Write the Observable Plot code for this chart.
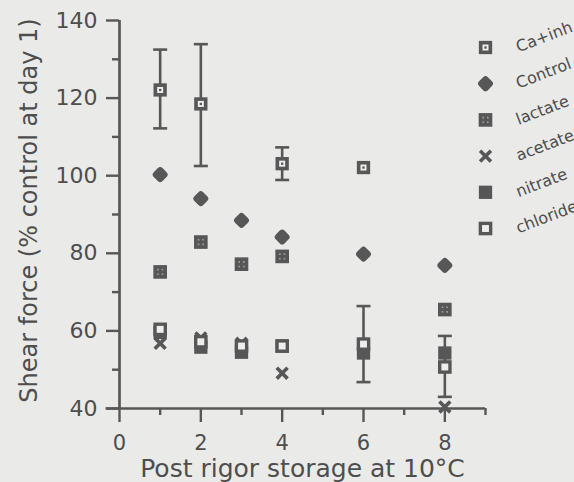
<!DOCTYPE html>
<html><head><meta charset="utf-8">
<script src="https://cdn.jsdelivr.net/npm/d3@7"></script>
<script src="https://cdn.jsdelivr.net/npm/@observablehq/plot@0.6"></script>
<style>html,body{margin:0;padding:0;background:#eaeae8;overflow:hidden;}</style>
</head><body><div id="chart"></div>
<script>
// ---- data ----
const days = [1, 2, 3, 4, 6, 8];
const caInh     = [122.1, 118.5, null, 103.1, 102.1, null];
const caInhLow  = [112.2, 102.5, null, 98.9, null, null];
const caInhHigh = [132.5, 133.9, null, 107.3, null, null];
const control   = [100.3, 94.1, 88.5, 84.2, 79.8, 76.9];
const lactate   = [75.2, 82.9, 77.2, 79.2, null, 65.5];
const acetate   = [56.8, 58.2, 56.8, 49.1, 54.5, 40.4];
const nitrate   = [59.6, 55.8, 54.5, 56.1, 54.3, 54.3];
const chloride  = [60.4, 57.2, 56.1, 56.1, 56.6, 50.7];
const chlorideLow  = [null, null, null, null, 46.8, 43.0];
const chlorideHigh = [null, null, null, null, 66.4, 58.7];
const seriesNames = ["Ca+inh", "Control", "lactate", "acetate", "nitrate", "chloride"];
const xMajorTicks = [0, 2, 4, 6, 8];
const xMinorTicks = [1, 3, 5, 7, 9];
const yMajorTicks = [40, 60, 80, 100, 120, 140];
const yMinorTicks = [50, 70, 90, 110, 130];
const xLabel = "Post rigor storage at 10°C";
const yLabel = "Shear force (% control at day 1)";

// ---- helpers ----
const INK = "#575757", PAPER = "#eeeeec", TEXT = "#4e4e4e";
const rows = vals => days.map((d, i) => ({day: d, v: vals[i]})).filter(r => r.v != null);
const errRows = (lo, hi) => days.map((d, i) => ({day: d, lo: lo[i], hi: hi[i]})).filter(r => r.lo != null);
const seriesValues = {"Ca+inh": caInh, "Control": control, "lactate": lactate, "acetate": acetate, "nitrate": nitrate, "chloride": chloride};

// rounded diamond for the Control marker
const roundDiamond = {draw(ctx, size) {
  const r = Math.sqrt(size / Math.PI), rad = r * 0.38;
  const P = [[0, -r], [r, 0], [0, r], [-r, 0]];
  ctx.moveTo(-r / 2, -r / 2);
  for (let i = 0; i < 4; i++) {
    const a = P[i], b = P[(i + 1) % 4];
    ctx.arcTo(a[0], a[1], b[0], b[1], rad);
  }
  ctx.closePath();
}};

function glyph(kind, data, pos) {
  const at = (o = {}) => ({...pos, ...o, dx: (pos.dx || 0) + (o.dx || 0), dy: (pos.dy || 0) + (o.dy || 0)});
  const sq = (r, fill, o = {}) => Plot.dot(data, at({symbol: "square", r, fill, stroke: "none", ...o}));
  switch (kind) {
    case "Ca+inh": return [sq(7.5, INK), sq(3.4, PAPER), sq(1.3, INK)];
    case "Control": return [Plot.dot(data, at({symbol: roundDiamond, r: 8.8, fill: INK, stroke: "none"}))];
    case "lactate": return [sq(7.7, INK), ...[[-2.3, -2.3], [2.3, -2.3], [-2.3, 2.3], [2.3, 2.3]].map(([dx, dy]) => sq(0.9, "#a0a0a0", {dx, dy}))];
    case "acetate": return [Plot.dot(data, at({symbol: "times", r: 5, stroke: INK, strokeWidth: 3.6, fill: "none"}))];
    case "nitrate": return [sq(7.5, INK)];
    case "chloride": return [sq(7.7, INK), sq(3.9, PAPER)];
  }
}
const capSymbol = {draw(ctx, size) { const w = Math.sqrt(size); ctx.moveTo(-w / 2, 0); ctx.lineTo(w / 2, 0); }};
function errorBars(data) {
  return [
    Plot.ruleX(data, {x: "day", y1: "lo", y2: "hi", stroke: INK, strokeWidth: 2.6}),
    Plot.dot(data, {x: "day", y: "lo", symbol: capSymbol, r: 7.9, stroke: INK, strokeWidth: 2.6, fill: "none"}),
    Plot.dot(data, {x: "day", y: "hi", symbol: capSymbol, r: 7.9, stroke: INK, strokeWidth: 2.6, fill: "none"})
  ];
}

const axisStyle = {stroke: INK, strokeWidth: 2.4, fill: TEXT, label: null};
const marks = [
  // axes
  Plot.axisY({...axisStyle, ticks: yMajorTicks, tickSize: 13, tickPadding: 9, fontSize: 22}),
  Plot.axisY({...axisStyle, ticks: yMinorTicks, tickSize: 7, tickFormat: () => ""}),
  Plot.axisX({...axisStyle, ticks: xMajorTicks, tickSize: 14, tickPadding: 13, fontSize: 21}),
  Plot.axisX({...axisStyle, ticks: xMinorTicks, tickSize: 7, tickFormat: () => ""}),
  Plot.ruleX([0], {stroke: INK, strokeWidth: 2.7}),
  Plot.ruleY([40], {x1: -0.33, x2: 9, stroke: INK, strokeWidth: 2.7}),
  // labels
  Plot.text([yLabel], {text: d => d, frameAnchor: "left", dx: -83, dy: -4, rotate: -90, lineAnchor: "bottom", textAnchor: "middle", fontSize: 24, fill: TEXT}),
  Plot.text([xLabel], {text: d => d, frameAnchor: "bottom", dx: 0, dy: 68, lineAnchor: "bottom", textAnchor: "middle", fontSize: 25, fill: TEXT}),
  // error bars
  ...errorBars(errRows(caInhLow, caInhHigh)),
  ...errorBars(errRows(chlorideLow, chlorideHigh)),
  // series
  ...seriesNames.flatMap(name => glyph(name, rows(seriesValues[name]), {x: "day", y: "v"})),
  // legend
  ...seriesNames.flatMap((name, i) => [
    ...glyph(name, [0], {frameAnchor: "top-right", dx: 0, dy: 27 + i * 36.2}),
    Plot.text([name], {text: d => d, frameAnchor: "top-right", dx: 33, dy: 32 + i * 36.2, rotate: -21, textAnchor: "start", lineAnchor: "bottom", fontSize: 16, fill: TEXT})
  ])
];

const chart = Plot.plot({
  width: 574, height: 482,
  marginLeft: 119, marginRight: 89, marginTop: 20, marginBottom: 74,
  x: {domain: [0, 9]},
  y: {domain: [40, 140]},
  style: {background: "#eaeae8", fontFamily: "DejaVu Sans", color: TEXT, overflow: "hidden"},
  marks
});
document.getElementById("chart").appendChild(chart);
</script>
</body></html>
